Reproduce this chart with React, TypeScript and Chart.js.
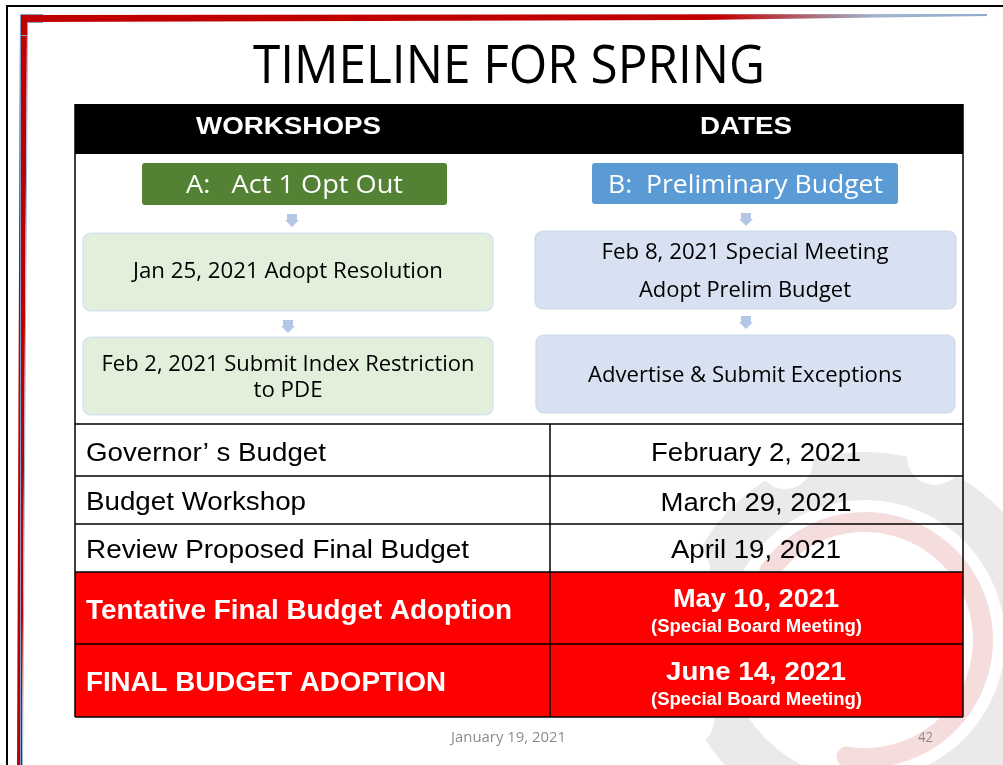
import React, { useEffect, useRef } from "react";
import { Chart, registerables } from "chart.js";

Chart.register(...registerables);

// ---------- content ----------
const TITLE = "TIMELINE FOR SPRING";
const HEADERS = ["WORKSHOPS", "DATES"];
const FLOW_A = ["A:   Act 1 Opt Out", "Jan 25, 2021 Adopt Resolution", "Feb 2, 2021 Submit Index Restriction\nto PDE"];
const FLOW_B = ["B:  Preliminary Budget", "Feb 8, 2021 Special Meeting\nAdopt Prelim Budget", "Advertise & Submit Exceptions"];
const EVENTS = [
  "Governor\u2019 s Budget",
  "Budget Workshop",
  "Review Proposed Final Budget",
  "Tentative Final Budget Adoption",
  "FINAL BUDGET ADOPTION",
];
const EVENT_DATES = ["February 2, 2021", "March 29, 2021", "April 19, 2021", "May 10, 2021", "June 14, 2021"];
const EVENT_NOTES = ["", "", "", "(Special Board Meeting)", "(Special Board Meeting)"];
const EVENT_HIGHLIGHT = [false, false, false, true, true];
const FOOTER_DATE = "January 19, 2021";
const PAGE_NO = "42";

// ---------- layout (slide coordinates) ----------
const W = 1003;
const H = 765;
const TABLE = { x0: 75, x1: 963, split: 550, headTop: 104, headBottom: 154, flowBottom: 424 };
const ROW_EDGES = [424, 476, 524, 572, 644, 717];
const EVENT_TEXT_W = [240, 220, 383, 426, 360];
const DATE_TEXT_W = [210, 191, 170, 166, 180];
const EVENT_BASE = [461, 510, 558, 619, 691];
const DATE_BASE = [461, 511, 558, 607, 680];
const NOTE_BASE = [0, 0, 0, 632, 705];

const FLOW_LAYOUT = [
  {
    head: { x0: 142, x1: 447, y0: 163, y1: 205, cx: 294.5, base: 193, w: 217, color: "#548235" },
    boxes: [
      { x0: 83, x1: 493, y0: 233, y1: 311, cx: 288, bases: [278], widths: [310] },
      { x0: 83, x1: 493, y0: 337, y1: 415, cx: 288, bases: [371, 397], widths: [373, 69] },
    ],
    arrows: [[292, 214], [288, 320]],
    fill: "#e2efda",
    stroke: "#d3e0ee",
  },
  {
    head: { x0: 592, x1: 898, y0: 163, y1: 204, cx: 745.5, base: 193, w: 275, color: "#5b9bd5" },
    boxes: [
      { x0: 535, x1: 956, y0: 231, y1: 309, cx: 745, bases: [259, 297], widths: [287, 212] },
      { x0: 536, x1: 955, y0: 335, y1: 413, cx: 745, bases: [382], widths: [314] },
    ],
    arrows: [[746, 213], [746, 316]],
    fill: "#d7e1f1",
    stroke: "#cbd8ee",
  },
];

const CALIBRI = "'Open Sans', 'Noto Sans', sans-serif";
const ARIAL = "'Liberation Sans', Arial, sans-serif";

function fitText(
  ctx: CanvasRenderingContext2D,
  text: string,
  x: number,
  y: number,
  font: string,
  color: string,
  targetW: number,
  align: CanvasTextAlign
) {
  ctx.save();
  ctx.font = font;
  const w = ctx.measureText(text).width;
  let s = targetW > 0 && w > 0 ? targetW / w : 1;
  s = Math.max(0.7, Math.min(1.35, s));
  ctx.translate(x, y);
  ctx.scale(s, 1);
  ctx.textAlign = align;
  ctx.textBaseline = "alphabetic";
  ctx.fillStyle = color;
  ctx.fillText(text, 0, 0);
  ctx.restore();
}

const slidePlugin = {
  id: "slide",
  beforeDraw(chart: any) {
    const ctx: CanvasRenderingContext2D = chart.ctx;
    const xs = chart.scales.x;
    const ys = chart.scales.y;
    const X = (v: number) => xs.getPixelForValue(v);
    const Y = (v: number) => ys.getPixelForValue(v);

    ctx.save();
    ctx.fillStyle = "#ffffff";
    ctx.fillRect(X(0), Y(0), X(W) - X(0), Y(H) - Y(0));

    // ---- watermark emblem ----
    const cx = X(865), cy = Y(640);
    ctx.fillStyle = "#ece9e9";
    ctx.beginPath();
    ctx.arc(cx, cy, 188, 0, Math.PI * 2);
    ctx.arc(cx, cy, 140, 0, Math.PI * 2, true);
    ctx.fill();
    ctx.fillStyle = "#ffffff";
    for (let i = 0; i < 8; i++) {
      const a = -Math.PI / 2 - 0.42 + (i * Math.PI * 2) / 8;
      ctx.beginPath();
      ctx.arc(cx + Math.cos(a) * 196, cy + Math.sin(a) * 196, 28, 0, Math.PI * 2);
      ctx.fill();
    }
    ctx.strokeStyle = "#f6dddd";
    ctx.lineCap = "round";
    ctx.lineWidth = 20;
    ctx.beginPath();
    ctx.arc(cx, cy, 118, Math.PI * 1.2, Math.PI * 0.55);
    ctx.stroke();
    ctx.lineWidth = 16;
    ctx.beginPath();
    ctx.arc(cx + 10, cy, 55, Math.PI * 1.05, Math.PI * 1.75);
    ctx.stroke();
    ctx.lineCap = "butt";

    // ---- frame ----
    ctx.fillStyle = "#000000";
    ctx.fillRect(X(6), Y(5), X(W) - X(6), 2);
    ctx.fillRect(X(6), Y(5), 2, Y(H) - Y(5));

    const grad = ctx.createLinearGradient(X(20), 0, X(990), 0);
    grad.addColorStop(0, "#c00000");
    grad.addColorStop(0.72, "#c00000");
    grad.addColorStop(0.88, "#9fb4cf");
    grad.addColorStop(1, "#8fabcf");
    ctx.fillStyle = grad;
    ctx.beginPath();
    ctx.moveTo(X(20), Y(15));
    ctx.lineTo(X(987), Y(14));
    ctx.lineTo(X(987), Y(16));
    ctx.lineTo(X(700), Y(20));
    ctx.lineTo(X(27), Y(22));
    ctx.lineTo(X(22), Y(H));
    ctx.lineTo(X(17), Y(H));
    ctx.closePath();
    ctx.fill();
    ctx.strokeStyle = "#7f9fc4";
    ctx.lineWidth = 1;
    ctx.beginPath();
    ctx.moveTo(X(20.5), Y(H));
    ctx.lineTo(X(20.5), Y(14.5));
    ctx.lineTo(X(43), Y(14.5));
    ctx.moveTo(X(27.5), Y(36));
    ctx.lineTo(X(27.5), Y(22.5));
    ctx.lineTo(X(43), Y(22.5));
    ctx.moveTo(X(20.5), Y(35.5));
    ctx.lineTo(X(27.5), Y(35.5));
    ctx.stroke();
    ctx.strokeStyle = "#9db8d8";
    ctx.beginPath();
    ctx.moveTo(X(27.5), Y(36));
    ctx.lineTo(X(22.5), Y(H));
    ctx.stroke();

    // ---- title ----
    fitText(ctx, TITLE, X(509), Y(83), `400 53px ${CALIBRI}`, "#000000", 512, "center");

    // ---- table header ----
    ctx.fillStyle = "#000000";
    ctx.fillRect(X(TABLE.x0), Y(TABLE.headTop), X(TABLE.x1) - X(TABLE.x0), Y(TABLE.headBottom) - Y(TABLE.headTop));
    fitText(ctx, HEADERS[0], X(288.5), Y(134), `bold 23px ${ARIAL}`, "#ffffff", 185, "center");
    fitText(ctx, HEADERS[1], X(746), Y(134), `bold 23px ${ARIAL}`, "#ffffff", 92, "center");

    // ---- red rows ----
    for (let i = 0; i < EVENTS.length; i++) {
      if (EVENT_HIGHLIGHT[i]) {
        ctx.fillStyle = "#ff0000";
        ctx.fillRect(X(TABLE.x0), Y(ROW_EDGES[i]), X(TABLE.x1) - X(TABLE.x0), Y(ROW_EDGES[i + 1]) - Y(ROW_EDGES[i]));
      }
    }

    // ---- table lines ----
    ctx.strokeStyle = "#000000";
    ctx.lineWidth = 1.5;
    ctx.beginPath();
    ctx.moveTo(X(TABLE.x0), Y(TABLE.headTop));
    ctx.lineTo(X(TABLE.x0), Y(ROW_EDGES[ROW_EDGES.length - 1]));
    ctx.moveTo(X(TABLE.x1), Y(TABLE.headTop));
    ctx.lineTo(X(TABLE.x1), Y(ROW_EDGES[ROW_EDGES.length - 1]));
    ctx.moveTo(X(TABLE.split), Y(ROW_EDGES[0]));
    ctx.lineTo(X(TABLE.split), Y(ROW_EDGES[ROW_EDGES.length - 1]));
    for (const e of ROW_EDGES) {
      ctx.moveTo(X(TABLE.x0), Y(e));
      ctx.lineTo(X(TABLE.x1), Y(e));
    }
    ctx.stroke();

    // ---- flow diagrams ----
    const flows = [FLOW_A, FLOW_B];
    flows.forEach((flow, fi) => {
      const L = FLOW_LAYOUT[fi];
      const h = L.head;
      ctx.fillStyle = h.color;
      ctx.beginPath();
      ctx.roundRect(X(h.x0), Y(h.y0), X(h.x1) - X(h.x0), Y(h.y1) - Y(h.y0), 3);
      ctx.fill();
      fitText(ctx, flow[0], X(h.cx), Y(h.base), `400 25px ${CALIBRI}`, "#ffffff", h.w, "center");

      L.arrows.forEach(([ax, ay]) => {
        ctx.fillStyle = "#b4c7e7";
        ctx.fillRect(X(ax - 5), Y(ay), 10, 6);
        ctx.beginPath();
        ctx.moveTo(X(ax - 7), Y(ay + 6));
        ctx.lineTo(X(ax + 7), Y(ay + 6));
        ctx.lineTo(X(ax), Y(ay + 13));
        ctx.closePath();
        ctx.fill();
      });

      L.boxes.forEach((b, bi) => {
        ctx.fillStyle = L.fill;
        ctx.strokeStyle = L.stroke;
        ctx.lineWidth = 1.2;
        ctx.beginPath();
        ctx.roundRect(X(b.x0), Y(b.y0), X(b.x1) - X(b.x0), Y(b.y1) - Y(b.y0), 8);
        ctx.fill();
        ctx.stroke();
        const lines = flow[bi + 1].split("\n");
        lines.forEach((ln, li) => {
          fitText(ctx, ln, X(b.cx), Y(b.bases[li]), `400 21px ${CALIBRI}`, "#000000", b.widths[li], "center");
        });
      });
    });

    // ---- event rows ----
    for (let i = 0; i < EVENTS.length; i++) {
      const hi = EVENT_HIGHLIGHT[i];
      const color = hi ? "#ffffff" : "#000000";
      fitText(ctx, EVENTS[i], X(86), Y(EVENT_BASE[i]), hi ? `bold 28px ${ARIAL}` : `26px ${ARIAL}`, color, EVENT_TEXT_W[i], "left");
      fitText(ctx, EVENT_DATES[i], X(756), Y(DATE_BASE[i]), hi ? `bold 26px ${ARIAL}` : `26px ${ARIAL}`, color, DATE_TEXT_W[i], "center");
      if (EVENT_NOTES[i]) {
        fitText(ctx, EVENT_NOTES[i], X(756.5), Y(NOTE_BASE[i]), `bold 18px ${ARIAL}`, color, 211, "center");
      }
    }

    // ---- footer ----
    fitText(ctx, FOOTER_DATE, X(508.5), Y(742), `400 14px ${CALIBRI}`, "#8c8c8c", 115, "center");
    fitText(ctx, PAGE_NO, X(925.5), Y(742), `400 14px ${CALIBRI}`, "#8c8c8c", 15, "center");

    ctx.restore();
  },
};

export default function App() {
  const ref = useRef<HTMLCanvasElement | null>(null);
  useEffect(() => {
    if (!ref.current) return;
    const chart = new Chart(ref.current, {
      type: "scatter",
      data: { datasets: [{ data: [] }] },
      options: {
        responsive: false,
        maintainAspectRatio: false,
        animation: false,
        layout: { padding: 0 },
        plugins: { legend: { display: false }, tooltip: { enabled: false } },
        scales: {
          x: { type: "linear", min: 0, max: W, display: false },
          y: { type: "linear", min: 0, max: H, reverse: true, display: false },
        },
      },
      plugins: [slidePlugin],
    });
    return () => chart.destroy();
  }, []);
  return (
    <div style={{ position: "fixed", left: 0, top: 0, width: W, height: H, background: "#fff" }}>
      <canvas ref={ref} width={W} height={H} style={{ display: "block", width: W, height: H }} />
    </div>
  );
}
